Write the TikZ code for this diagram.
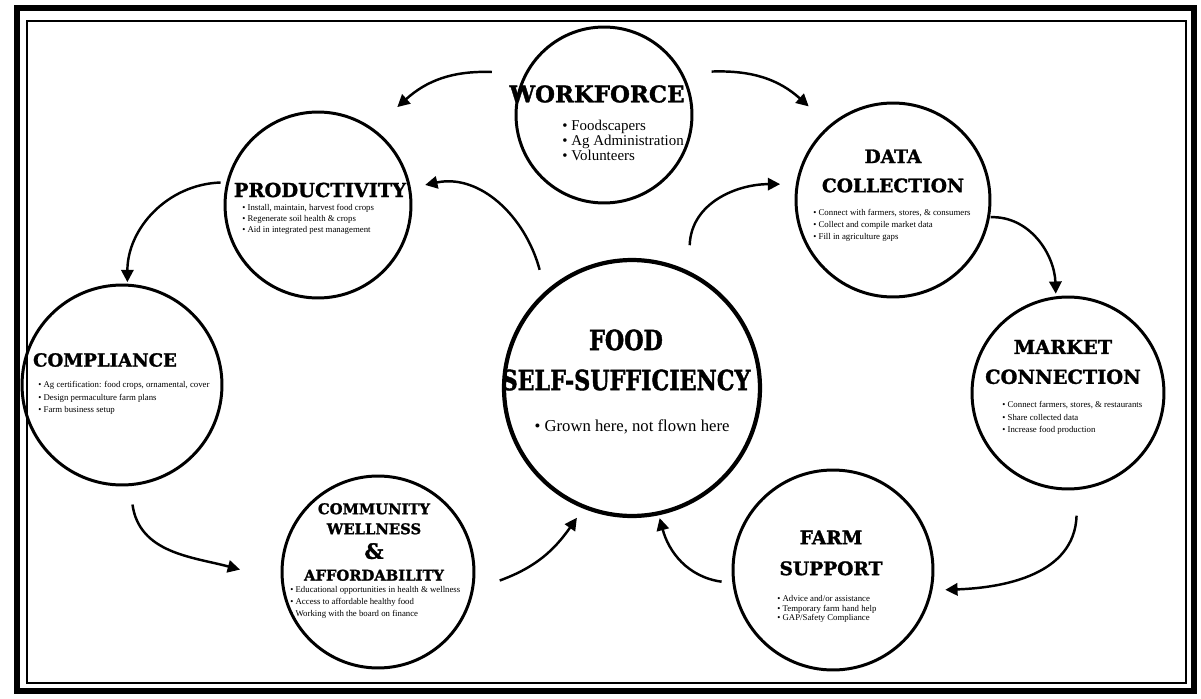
\documentclass[tikz,border=0pt]{standalone}
\usepackage{fontspec}
\setmainfont{Liberation Serif}
\newfontfamily\headfont{DejaVu Serif}[BoldFeatures={FakeBold=1.5}]
\newfontfamily\corefont{DejaVu Serif}[FakeStretch=0.8, BoldFeatures={FakeBold=1.5}]
\usetikzlibrary{arrows.meta,calc}

\tikzset{
  ring/.style={circle, draw, line width=1.7pt, minimum size=#1, inner sep=0pt},
  head/.style={align=center, inner sep=0pt, font=\headfont\bfseries\fontsize{#1pt}{#1pt}\selectfont},
  bullets/.style={align=left, inner sep=0pt, anchor=west, font=\fontsize{5pt}{#1pt}\selectfont},
  flow/.style={-{Triangle[length=7pt,width=7pt]}, line width=1.4pt}
}

\begin{document}
\begin{tikzpicture}[x=0.02cm, y=0.02cm]
    \useasboundingbox (0,0) rectangle (1201,698);
    % frame
    \draw [line width=3.4pt] (17,7) rectangle (1194,690);
    \draw [line width=1.6pt] (27,15) rectangle (1186,677);

    % circles
    \node [ring=3.52cm] (wf) at (604,583) {};
    \node [ring=3.72cm] (prod) at (318,493) {};
    \node [ring=3.88cm] (data) at (893,498) {};
    \node [ring=4.0cm] (comp) at (122,313) {};
    \node [ring=3.84cm] (mkt) at (1068,305) {};
    \node [ring=3.84cm] (cw) at (378,126) {};
    \node [ring=4.0cm] (farm) at (833,128) {};
    \node [ring=5.12cm, line width=2.4pt] (core) at (632,310) {};

    % titles
    \node [head=13] (wf-head) at ($(wf)+(-7,21)$) {WORKFORCE};
    \node [head=11] (prod-head) at ($(prod)+(2,15)$) {PRODUCTIVITY};
    \node [head=10.6] (data-head) at ($(data)+(0,29)$) {DATA\\[6pt]COLLECTION};
    \node [head=10.3] (comp-head) at ($(comp)+(-17,25)$) {COMPLIANCE};
    \node [head=11] (mkt-head) at ($(mkt)+(-5,31)$) {MARKET\\[6pt]CONNECTION};
    \node [head=8.4] (cw-head) at ($(cw)+(-4,30)$) {COMMUNITY\\[3pt]WELLNESS\\[4pt]{\fontsize{12pt}{12pt}\selectfont\&}\\[4pt]AFFORDABILITY};
    \node [head=10.6] (farm-head) at ($(farm)+(-2,17)$) {FARM\\[7pt]SUPPORT};
    \node [align=center, inner sep=0pt, font=\corefont\bfseries\fontsize{15.8pt}{15.8pt}\selectfont] (core-head) at ($(core)+(-6,28)$) {FOOD\\[7pt]SELF-SUFFICIENCY};

    % lists
    \node [bullets=8.5, font=\fontsize{8.5pt}{8.5pt}\selectfont] (wf-list) at ($(wf)+(-42,-25)$) {• Foodscapers\\• Ag Administration\\• Volunteers};
    \node [bullets=6.2] (prod-list) at ($(prod)+(-76,-14)$) {• Install, maintain, harvest food crops\\• Regenerate soil health \& crops\\• Aid in integrated pest management};
    \node [bullets=6.8] (data-list) at ($(data)+(-80,-25)$) {• Connect with farmers, stores, \& consumers\\• Collect and compile market data\\• Fill in agriculture gaps};
    \node [bullets=7] (comp-list) at ($(comp)+(-84,-13)$) {• Ag certification: food crops, ornamental, cover\\• Design permaculture farm plans\\• Farm business setup};
    \node [bullets=7] (mkt-list) at ($(mkt)+(-66,-25)$) {• Connect farmers, stores, \& restaurants\\• Share collected data\\• Increase food production};
    \node [bullets=6.8] (cw-list) at ($(cw)+(-88,-30)$) {• Educational opportunities in health \& wellness\\• Access to affordable healthy food\\• Working with the board on finance};
    \node [bullets=5.5] (farm-list) at ($(farm)+(-56,-39)$) {• Advice and/or assistance\\• Temporary farm hand help\\• GAP/Safety Compliance};
    \node [inner sep=0pt, font=\fontsize{9.5pt}{9.5pt}\selectfont] (core-list) at ($(core)+(0,-39)$) {• Grown here, not flown here};

    % arrows
    \draw [flow] ($(wf)+(159:120)$) to[out=178,in=42] ($(prod)+(51:126)$);
    \draw [flow] ($(wf)+(22:116)$) to[out=2,in=138] ($(data)+(132:126)$);
    \draw [flow] ($(prod)+(167:100)$) to[out=182,in=90] ($(comp)+(87:103)$);
    \draw [flow] ($(comp)+(-85:120)$) to[out=-82,in=165] ($(cw)+(179:138)$);
    \draw [flow] ($(cw)+(-4:122)$) to[out=20,in=-125] ($(core)+(-113:141)$);
    \draw [flow] ($(data)+(-10:99)$) to[out=2,in=92] ($(mkt)+(97:100)$);
    \draw [flow] ($(mkt)+(-86:123)$) to[out=-92,in=2] ($(farm)+(-10:114)$);
    \draw [flow] ($(farm)+(186:112)$) to[out=172,in=-75] ($(core)+(-78:133)$);
    \draw [flow] ($(core)+(128:150)$) to[out=105,in=12] ($(prod)+(10.6:109)$);
    \draw [flow] ($(core)+(68:154)$) to[out=88,in=180] ($(data)+(172:114)$);
\end{tikzpicture}
\end{document}
